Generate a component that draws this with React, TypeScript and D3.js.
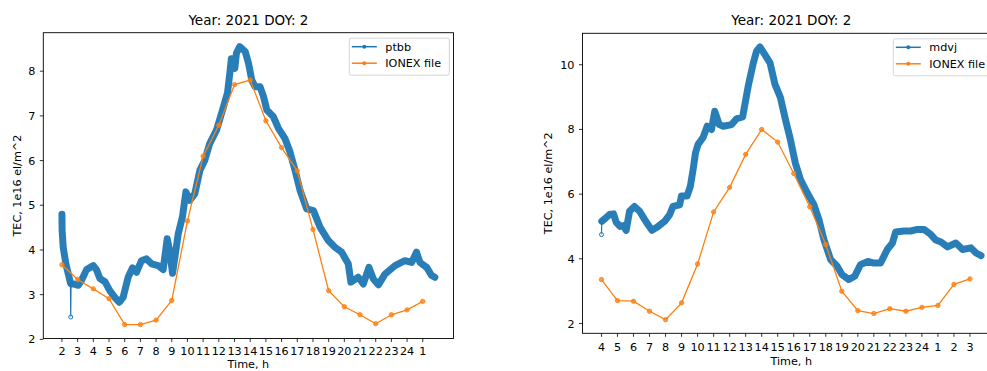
import React from "react";
import * as d3 from "d3";

// tick labels (hours of day) for each station
const ptbbHours = ["2", "3", "4", "5", "6", "7", "8", "9", "10", "11", "12", "13", "14", "15", "16", "17", "18", "19", "20", "21", "22", "23", "24", "1"];
const mdvjHours = ["4", "5", "6", "7", "8", "9", "10", "11", "12", "13", "14", "15", "16", "17", "18", "19", "20", "21", "22", "23", "24", "1", "2", "3"];

// station TEC, [hours since first tick, TEC]
const ptbbTec: [number, number][] = [
  [0.0, 4.8], [0.01, 4.44], [0.08, 4.06], [0.25, 3.69], [0.4, 3.47], [0.55, 3.25],
  [0.72, 3.24], [1.04, 3.21], [1.25, 3.32], [1.57, 3.56], [2.0, 3.65], [2.2, 3.56],
  [2.42, 3.36], [2.74, 3.29], [3.05, 3.09], [3.37, 2.94], [3.65, 2.83], [3.9, 2.94],
  [4.22, 3.39], [4.5, 3.6], [4.75, 3.5], [5.07, 3.76], [5.39, 3.8], [5.71, 3.69],
  [6.13, 3.65], [6.45, 3.56], [6.71, 4.25], [6.88, 3.95], [7.05, 3.48], [7.2, 3.84],
  [7.41, 4.36], [7.68, 4.74], [7.9, 5.3], [8.15, 5.11], [8.47, 5.26], [8.79, 5.78],
  [9.1, 6.0], [9.42, 6.38], [9.85, 6.68], [10.27, 7.17], [10.55, 7.51], [10.7, 7.95],
  [10.8, 8.28], [11.02, 8.06], [11.12, 8.4], [11.33, 8.55], [11.68, 8.44], [11.89, 8.18],
  [12.1, 7.8], [12.31, 7.65], [12.63, 7.65], [12.85, 7.43], [13.06, 7.13], [13.48, 6.98],
  [13.8, 6.72], [14.22, 6.49], [14.54, 6.19], [14.86, 5.78], [15.18, 5.33], [15.6, 4.92],
  [16.03, 4.88], [16.45, 4.51], [16.98, 4.21], [17.4, 4.06], [17.83, 3.95], [18.25, 3.69],
  [18.42, 3.28], [18.89, 3.39], [19.21, 3.24], [19.57, 3.61], [19.85, 3.35], [20.17, 3.22],
  [20.59, 3.46], [21.23, 3.65], [21.86, 3.76], [22.29, 3.72], [22.6, 3.95], [22.82, 3.72],
  [23.25, 3.61], [23.56, 3.43], [23.77, 3.39],
];
const ptbbSpike: [number, number][] = [[0.54, 3.28], [0.56, 2.5], [0.58, 3.22]];

const mdvjTec: [number, number][] = [
  [0.02, 5.16], [0.19, 5.23], [0.5, 5.37], [0.75, 5.39], [0.92, 5.13], [1.17, 5.0],
  [1.38, 5.03], [1.54, 4.88], [1.75, 5.47], [2.06, 5.62], [2.38, 5.47], [2.69, 5.22],
  [2.9, 5.06], [3.15, 4.88], [3.53, 5.0], [3.94, 5.16], [4.26, 5.37], [4.46, 5.62],
  [4.88, 5.67], [4.99, 5.94], [5.34, 5.94], [5.55, 6.25], [5.72, 6.76], [5.87, 7.28],
  [6.03, 7.54], [6.34, 7.75], [6.6, 8.1], [6.87, 8.0], [7.07, 8.56], [7.35, 8.15],
  [7.6, 8.1], [8.12, 8.15], [8.43, 8.33], [8.81, 8.39], [8.95, 8.77], [9.16, 9.34],
  [9.48, 10.06], [9.68, 10.42], [9.89, 10.55], [10.2, 10.31], [10.52, 10.06], [10.83, 9.39],
  [11.16, 9.0], [11.48, 8.31], [11.79, 7.69], [12.1, 6.96], [12.42, 6.45], [12.84, 6.04],
  [13.25, 5.68], [13.57, 5.22], [13.88, 4.6], [14.3, 3.98], [14.71, 3.77], [15.02, 3.51],
  [15.44, 3.36], [15.8, 3.46], [16.17, 3.82], [16.63, 3.92], [17.0, 3.87], [17.42, 3.87],
  [17.84, 4.29], [18.16, 4.49], [18.36, 4.83], [18.88, 4.86], [19.3, 4.86], [19.72, 4.91],
  [20.14, 4.91], [20.56, 4.75], [20.87, 4.58], [21.19, 4.52], [21.6, 4.37], [22.12, 4.49],
  [22.54, 4.29], [23.06, 4.34], [23.38, 4.18], [23.69, 4.1],
];
const mdvjSpike: [number, number][] = [[0.0, 4.75], [0.02, 5.16]];

// IONEX values, one per hour tick
const ptbbIonex = [3.67, 3.34, 3.13, 2.91, 2.33, 2.33, 2.43, 2.87, 4.65, 6.1, 6.79, 7.7, 7.8, 6.89, 6.29, 5.77, 4.46, 3.09, 2.73, 2.55, 2.35, 2.55, 2.66, 2.85];
const mdvjIonex = [3.36, 2.71, 2.69, 2.38, 2.12, 2.64, 3.84, 5.45, 6.21, 7.23, 8.0, 7.61, 6.64, 5.61, 4.44, 3.0, 2.4, 2.31, 2.46, 2.38, 2.5, 2.56, 3.21, 3.38];

const ptbbYTicks = [2, 3, 4, 5, 6, 7, 8];
const mdvjYTicks = [2, 4, 6, 8, 10];

const BLUE = "#1f77b4";
const ORANGE = "#ff7f0e";
const FONT = "DejaVu Sans, sans-serif";

type Frame = { left: number; right: number; top: number; bottom: number };

function Panel(props: {
  id: string;
  frame: Frame;
  hours: string[];
  yTicks: number[];
  station: string;
  tec: [number, number][];
  spike: [number, number][];
  ionex: number[];
  legendX: number;
  tickDy: number;
  xLabelY: number;
  yLabelX: number;
}) {
  const { id, frame, hours, yTicks, station, tec, spike, ionex, legendX, tickDy, xLabelY, yLabelX } = props;
  const ionexPts: [number, number][] = ionex.map((v, i) => [i, v]);
  const all = [...tec, ...spike, ...ionexPts];
  const [x0, x1] = d3.extent(all, (d) => d[0]) as [number, number];
  const [y0, y1] = d3.extent(all, (d) => d[1]) as [number, number];
  const mx = (x1 - x0) * 0.05;
  const my = (y1 - y0) * 0.05;
  const x = d3.scaleLinear().domain([x0 - mx, x1 + mx]).range([frame.left, frame.right]);
  const y = d3.scaleLinear().domain([y0 - my, y1 + my]).range([frame.bottom, frame.top]);
  const line = d3.line<[number, number]>().x((d) => x(d[0])).y((d) => y(d[1]));
  const cx = (frame.left + frame.right) / 2;
  const cy = (frame.top + frame.bottom) / 2;

  return (
    <g>
      <clipPath id={id}>
        <rect x={frame.left} y={frame.top} width={frame.right - frame.left} height={frame.bottom - frame.top} />
      </clipPath>
      <text x={cx} y={frame.top - 8} textAnchor="middle" fontSize={13.5} fontFamily={FONT}>Year: 2021 DOY: 2</text>

      <g clipPath={`url(#${id})`}>
        <path d={line(spike) ?? ""} fill="none" stroke={BLUE} strokeWidth={1.2} />
        {spike.map((d, i) => (
          <circle key={i} cx={x(d[0])} cy={y(d[1])} r={2} fill="white" fillOpacity={0.4} stroke={BLUE} strokeWidth={1} />
        ))}
        <path d={line(tec) ?? ""} fill="none" stroke={BLUE} strokeWidth={7} strokeLinejoin="round" strokeLinecap="round" strokeOpacity={0.95} />
        <path d={line(ionexPts) ?? ""} fill="none" stroke={ORANGE} strokeWidth={1.3} />
        {ionexPts.map((d, i) => (
          <circle key={i} cx={x(d[0])} cy={y(d[1])} r={2.2} fill={ORANGE} fillOpacity={0.75} stroke={ORANGE} strokeWidth={0.8} />
        ))}
      </g>

      <rect x={frame.left} y={frame.top} width={frame.right - frame.left} height={frame.bottom - frame.top} fill="none" stroke="#000" strokeWidth={0.9} />

      {hours.map((lab, i) => (
        <g key={i} transform={`translate(${x(i)},${frame.bottom})`}>
          <line y2={3.5} stroke="#000" strokeWidth={0.8} />
          <text y={tickDy} textAnchor="middle" fontSize={11.2} fontFamily={FONT}>{lab}</text>
        </g>
      ))}
      {yTicks.map((t) => (
        <g key={t} transform={`translate(${frame.left},${y(t)})`}>
          <line x2={-3.5} stroke="#000" strokeWidth={0.8} />
          <text x={-8} dy="0.36em" textAnchor="end" fontSize={11.2} fontFamily={FONT}>{t}</text>
        </g>
      ))}

      <text x={cx} y={xLabelY} textAnchor="middle" fontSize={11.2} fontFamily={FONT}>Time, h</text>
      <text transform={`translate(${yLabelX},${cy}) rotate(-90)`} textAnchor="middle" fontSize={11.2} fontFamily={FONT}>TEC, 1e16 el/m^2</text>

      <g transform={`translate(${legendX},${frame.top + 5.5})`}>
        <rect width={100} height={37} rx={2} fill="white" fillOpacity={0.8} stroke="#cccccc" strokeWidth={0.8} />
        <line x1={2.5} x2={27.5} y1={8.5} y2={8.5} stroke={BLUE} strokeWidth={1.5} />
        <circle cx={15} cy={8.5} r={2} fill={BLUE} />
        <text x={36} y={12.4} fontSize={11.2} fontFamily={FONT}>{station}</text>
        <line x1={2.5} x2={27.5} y1={25} y2={25} stroke={ORANGE} strokeWidth={1.5} />
        <circle cx={15} cy={25} r={2} fill={ORANGE} />
        <text x={36} y={29} fontSize={11.2} fontFamily={FONT}>IONEX file</text>
      </g>
    </g>
  );
}

export default function App() {
  return (
    <svg width={987} height={371} style={{ position: "absolute", left: 0, top: 0, background: "white" }}>
      <rect width={987} height={371} fill="white" />
      <Panel
        id="clipL"
        frame={{ left: 43.3, right: 453.5, top: 32.7, bottom: 338.5 }}
        hours={ptbbHours}
        yTicks={ptbbYTicks}
        station="ptbb"
        tec={ptbbTec}
        spike={ptbbSpike}
        ionex={ptbbIonex}
        legendX={349.3}
        tickDy={16.4}
        xLabelY={367.5}
        yLabelX={20.5}
      />
      <Panel
        id="clipR"
        frame={{ left: 582.5, right: 1000, top: 33.3, bottom: 333.3 }}
        hours={mdvjHours}
        yTicks={mdvjYTicks}
        station="mdvj"
        tec={mdvjTec}
        spike={mdvjSpike}
        ionex={mdvjIonex}
        legendX={893.3}
        tickDy={17.3}
        xLabelY={365}
        yLabelX={552}
      />
    </svg>
  );
}
